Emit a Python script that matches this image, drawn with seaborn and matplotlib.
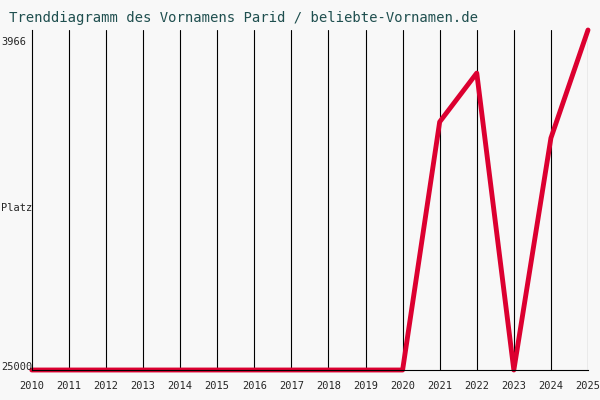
import matplotlib
matplotlib.use("Agg")
import matplotlib.pyplot as plt
import seaborn as sns
import pandas as pd

years = list(range(2010, 2026))
ranks = [25000]*11 + [9650, 6630, 25000, 10650, 3966]
ytick_labels = ["3966", "Platz", "25000"]

sns.set_style("white")
plt.rcParams['font.family'] = ['DejaVu Sans Mono']
fig = plt.figure(figsize=(6, 4), dpi=100, facecolor="#f8f8f8")
ax = fig.add_axes([0.053, 0.075, 0.927, 0.85], facecolor="#f8f8f8")
df = pd.DataFrame({"Jahr": years, "Rang": ranks})
sns.lineplot(data=df, x="Jahr", y="Rang", ax=ax, color="#dc0030", linewidth=3.5, clip_on=False)
ax.set_xlim(2010, 2025)
ax.set_ylim(25000, 3966)
for y in years[1:]:
    ax.axvline(y, color="black", linewidth=0.8, zorder=0)
for s in ["top", "right"]:
    ax.spines[s].set_visible(False)
ax.spines["left"].set_color("black")
ax.spines["bottom"].set_color("black")
ax.set_xticks(years)
ax.set_xticklabels([str(y) for y in years], fontsize=7.5)
ax.tick_params(axis="x", length=0, pad=8)
ax.set_yticks([])
ax.set_xlabel("")
ax.set_ylabel("")
fig.text(0.002, 0.895, ytick_labels[0], fontsize=7.5, ha="left", va="center")
fig.text(0.002, 0.48, ytick_labels[1], fontsize=7.5, ha="left", va="center")
fig.text(0.002, 0.083, ytick_labels[2], fontsize=7.5, ha="left", va="center")
fig.text(0.015, 0.955, "Trenddiagramm des Vornamens Parid / beliebte-Vornamen.de",
         fontsize=10, color="#1f4f4f", ha="left", va="center")
fig.savefig("out.png", dpi=100, facecolor=fig.get_facecolor())
